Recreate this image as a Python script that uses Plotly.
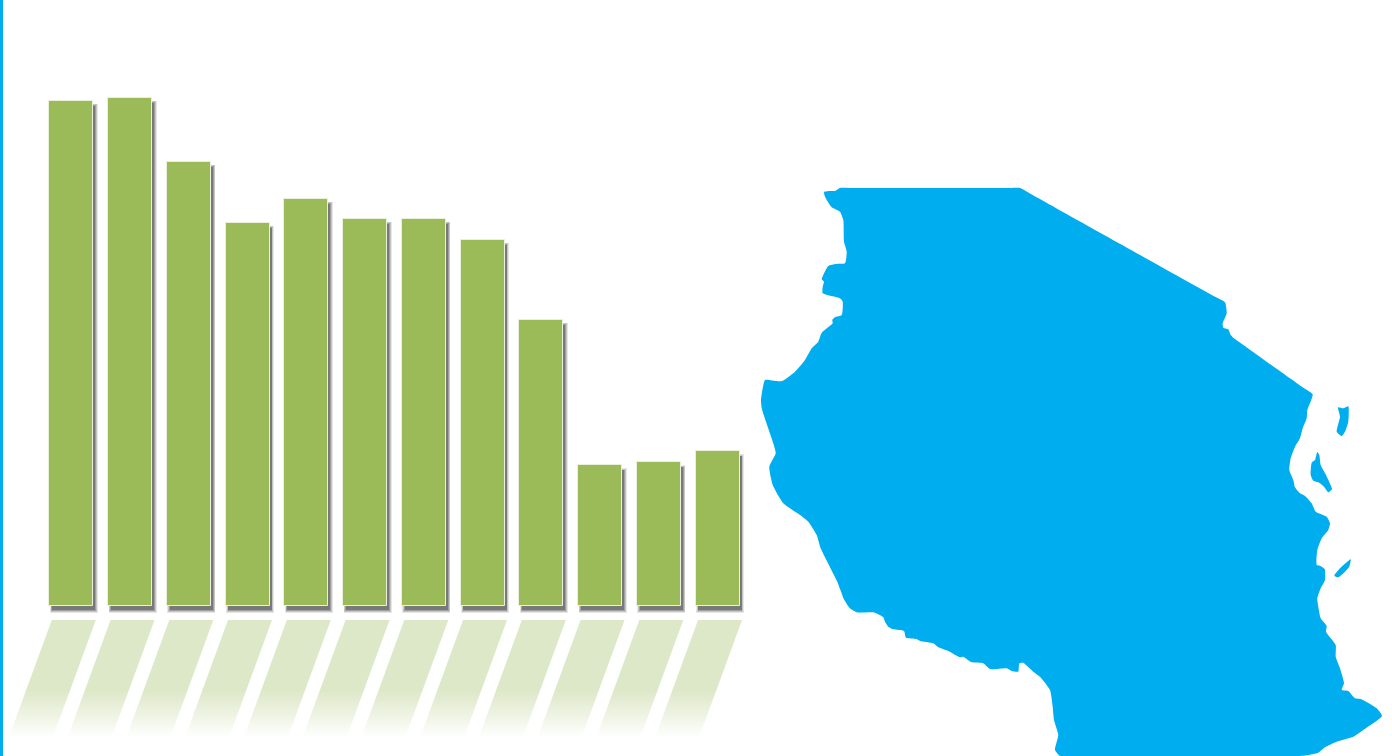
import plotly.graph_objects as go

# Bar values (chart units)
bar_labels = list(range(12))
bar_values = [505, 508, 444, 383, 407, 387, 387, 366, 286, 140.5, 143.5, 154.5]

# Map outline (image coordinates)
main_x = [824, 830, 835, 840, 850, 1010, 1020, 1030, 1215, 1225, 1226.7, 1222.7, 1223.3, 1228.3, 1230.7, 1233.3, 1243, 1303, 1312.7, 1307.3, 1306.7,
          1302.7, 1300, 1295, 1290.7, 1289.3, 1293.3, 1295, 1300, 1305, 1311.7, 1315.7, 1326.7, 1330, 1328.3, 1321.7,
          1317.3, 1316.7, 1320, 1324.7, 1325, 1320.7, 1317.3, 1318.3, 1320.7, 1326.7, 1326, 1335.7, 1335.7, 1340, 1344,
          1341.7, 1348.3, 1355, 1360.7, 1376.7, 1382, 1363.3, 1353.3, 1336.7, 1325, 1318.3, 1306.7, 1300, 1290, 1070, 1060, 1055,
          1058.3, 1054, 1052.7, 1050, 1040, 1033.3, 1023.3, 1019.3, 1018.3, 1011.7, 1006.7, 990, 983.3, 971.7, 963.3,
          960, 948.3, 938.3, 933.3, 920, 916.7, 906, 904, 893.3, 888.3, 885, 883.3, 873.3, 856.7, 850, 844.3, 837.3,
          820.7, 816.7, 808.3, 800, 783.3, 772.7, 769.3, 775.7, 773.3, 761.7, 761, 765, 772, 782.3, 795, 805, 811.7, 818.3,
          821.7, 832.7, 832.3, 835, 841.7, 842.7, 840, 822.7, 822.7, 824, 821.7, 828.3, 836, 845, 846.7, 844, 843.3,
          840, 831.7, 825, 824]
main_y = [192, 191, 191, 188, 188, 188, 188, 193.5, 296.8, 302.3, 313.3, 323.3, 327.7, 329.3, 335, 337.7, 344.7, 387.4, 394.3, 410, 418.3,
          428.3, 438.3, 446.7, 458.3, 470, 480, 487.3, 493.3, 496, 503.3, 511.7, 516.7, 523.3, 530, 538.3,
          550, 565, 565.7, 569, 580, 588.3, 598.3, 606.7, 618.3, 626, 631.7, 645, 656.7, 668.3, 683.3,
          690, 691, 698.3, 699, 708.3, 716, 730, 736.7, 741.7, 747.3, 752.7, 755.3, 756, 756, 756, 756, 750,
          735, 720, 706.7, 690, 676.7, 671.7, 662.7, 663.3, 671.7, 671, 668.3, 669, 663.3, 662.3, 656.7,
          657.3, 651, 647.3, 643.3, 641, 639, 637.7, 631, 629.3, 626.7, 621.7, 617.3, 612.3, 612.3, 608.3, 600, 581.7,
          548.3, 535, 521.7, 515, 503.3, 485, 466.7, 453.3, 443.3, 408.3, 400, 380, 380.4, 381, 371.7, 360, 348.3, 341.7,
          332.7, 323.3, 320, 317.3, 315, 301.7, 298.3, 293.3, 286.7, 281.7, 279.3, 266, 264, 263.3, 251.7, 241.7, 220,
          211.7, 207.3, 196.7, 192]
pemba_x = [1338, 1343.3, 1348.3, 1348.3, 1345, 1341.7, 1336.7, 1340, 1338]
pemba_y = [407.3, 408.3, 406.3, 421.7, 431.7, 436, 431.7, 416.7, 407.3]
zanzibar_x = [1317.3, 1319.3, 1320.7, 1326, 1332, 1328.3, 1324, 1319.3, 1313.3, 1310.7, 1311.7, 1315, 1317.3]
zanzibar_y = [452, 455, 465, 475, 489.3, 492.3, 486.7, 482.7, 480.7, 475, 462.7, 460, 452]
mafia_x = [1350.7, 1349.3, 1345, 1338.3, 1334.3, 1340, 1350.7]
mafia_y = [559.3, 566.7, 571.7, 577.3, 575.7, 568.3, 559.3]

BAR_COLOR = "#9BBB59"
MAP_COLOR = "#00AEEF"
STRIP_COLOR = "#00AEEF"

W, H = 1392, 756
STEP = 58.75           # px per category
FIRST = 71.3           # px centre of first category
BASE = 605.5           # px of value 0
BAR_W = 44

fig = go.Figure()

# Soft shadow: stacked translucent bars, slightly offset
for grow, alpha in [(2.0, 0.12), (1.2, 0.18), (0.4, 0.25), (-0.4, 0.35)]:
    fig.add_trace(go.Bar(
        x=[i + 2.5 / STEP for i in bar_labels],
        y=[v + 2 * grow for v in bar_values],
        base=-5 - grow,
        width=(BAR_W + 2 * grow) / STEP,
        marker=dict(color=f"rgba(50,50,50,{alpha})", line=dict(width=0)),
        hoverinfo="skip", showlegend=False,
    ))

# Main bars
fig.add_trace(go.Bar(
    x=bar_labels, y=bar_values, base=0, width=BAR_W / STEP,
    marker=dict(color=BAR_COLOR, line=dict(color="#EAF1DA", width=1)),
    showlegend=False,
))

# Slanted, fading reflections
ref_x, ref_y = [], []
half = 22 / STEP
shift = 2.5 / STEP
skew = 43 / STEP
for i in bar_labels:
    ref_x += [i + shift - half, i + shift + half, i + shift + half - skew, i + shift - half - skew, i + shift - half, None]
    ref_y += [-14.5, -14.5, -132, -132, -14.5, None]
fig.add_trace(go.Scatter(
    x=ref_x, y=ref_y, mode="lines", line=dict(width=0), fill="toself",
    fillgradient=dict(
        type="vertical", start=-14.5, stop=-132,
        colorscale=[[0, "rgba(221,232,200,1)"], [0.6, "rgba(221,232,200,1)"],
                    [0.85, "rgba(221,232,200,0.4)"], [1, "rgba(221,232,200,0)"]],
    ),
    hoverinfo="skip", showlegend=False,
))

# Map of Tanzania with islands
for xs, ys in [(main_x, main_y), (pemba_x, pemba_y), (zanzibar_x, zanzibar_y), (mafia_x, mafia_y)]:
    fig.add_trace(go.Scatter(
        x=xs, y=ys, xaxis="x2", yaxis="y2", mode="lines",
        line=dict(width=0, color=MAP_COLOR, shape="spline", smoothing=0.5),
        fill="toself", fillcolor=MAP_COLOR, hoverinfo="skip", showlegend=False,
    ))

fig.update_layout(
    width=W, height=H, margin=dict(l=0, r=0, t=0, b=0, pad=0),
    paper_bgcolor="white", plot_bgcolor="rgba(0,0,0,0)", barmode="overlay", bargap=0,
    xaxis=dict(range=[-FIRST / STEP, (W - FIRST) / STEP], visible=False, fixedrange=True, domain=[0, 1]),
    yaxis=dict(range=[BASE - H, BASE], visible=False, fixedrange=True, domain=[0, 1]),
    xaxis2=dict(range=[0, W], visible=False, fixedrange=True, overlaying="x", anchor="y2"),
    yaxis2=dict(range=[H, 0], visible=False, fixedrange=True, overlaying="y", anchor="x2"),
    shapes=[dict(type="rect", xref="paper", yref="paper", x0=0, x1=3 / W, y0=0, y1=1,
                 fillcolor=STRIP_COLOR, line=dict(width=0))],
)

fig.write_html("out.html", config={"displayModeBar": False},
               post_script="document.body.style.margin='0';document.documentElement.style.overflow='hidden';")
